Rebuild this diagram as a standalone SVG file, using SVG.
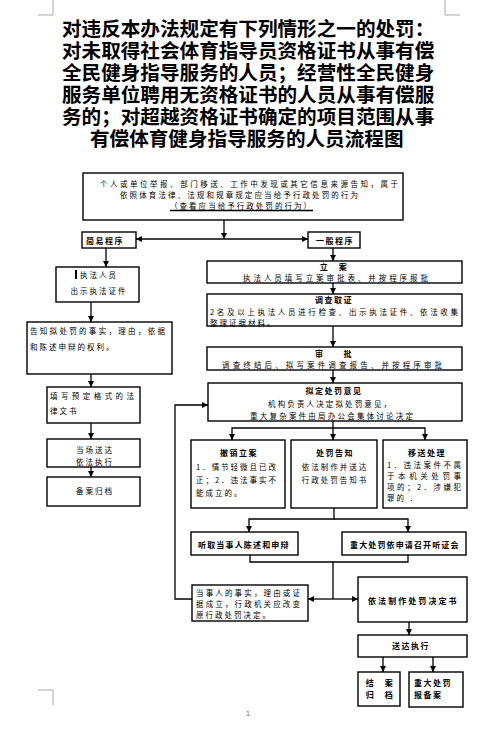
<svg xmlns="http://www.w3.org/2000/svg" width="495" height="729" viewBox="0 0 495 729">
<style>
.t{font-family:"Liberation Sans","Noto Sans CJK SC",sans-serif;font-size:19.6px;font-weight:700;fill:#000;dominant-baseline:central}
.s{font-family:"Noto Sans CJK SC","Liberation Sans",sans-serif;font-size:7.5px;fill:#000;dominant-baseline:central;letter-spacing:2px}
.b{font-family:"Noto Sans CJK SC","Liberation Sans",sans-serif;font-size:8px;font-weight:700;fill:#000;dominant-baseline:central;letter-spacing:1.5px}
.m{text-anchor:middle}
.box{fill:#fff;stroke:#000;stroke-width:1.4}
.ln{fill:none;stroke:#000;stroke-width:1.3}
.mk{fill:none;stroke:#aaa;stroke-width:1}
</style>
<defs>
<marker id="ah" markerUnits="userSpaceOnUse" markerWidth="6" markerHeight="6" refX="6" refY="3" orient="auto">
<path d="M0,0 L6,3 L0,6 z" fill="#000"/>
</marker>
</defs>
<rect width="495" height="729" fill="#fff"/>
<g id="marks">
<path class="mk" d="M53,0 V15 H38 M445,0 V15 H460 M53,705 V690 H38 M445,705 V690 H460"/>
</g>
<g id="title">
<text class="t" x="62" y="28.5">对违反本办法规定有下列情形之一的处罚：</text>
<text class="t" x="62" y="50.5">对未取得社会体育指导员资格证书从事有偿</text>
<text class="t" x="62" y="72.5">全民健身指导服务的人员；经营性全民健身</text>
<text class="t" x="62" y="94.5">服务单位聘用无资格证书的人员从事有偿服</text>
<text class="t" x="62" y="116.5">务的；对超越资格证书确定的项目范围从事</text>
<text class="t" x="90" y="138.5">有偿体育健身指导服务的人员流程图</text>
</g>
<g id="connectors">
<path class="ln" d="M224,220 V239" marker-end="url(#ah)"/>
<path class="ln" d="M224,239 H136" marker-end="url(#ah)"/>
<path class="ln" d="M224,239 H308" marker-end="url(#ah)"/>
<path class="ln" d="M106,248 V267" marker-end="url(#ah)"/>
<path class="ln" d="M91,302 V322" marker-end="url(#ah)"/>
<path class="ln" d="M91,374 V387" marker-end="url(#ah)"/>
<path class="ln" d="M91,423 V439" marker-end="url(#ah)"/>
<path class="ln" d="M91,467 V477" marker-end="url(#ah)"/>
<path class="ln" d="M333,248 V261" marker-end="url(#ah)"/>
<path class="ln" d="M333,283 V294" marker-end="url(#ah)"/>
<path class="ln" d="M333,326 V347" marker-end="url(#ah)"/>
<path class="ln" d="M333,370 V383" marker-end="url(#ah)"/>
<path class="ln" d="M333,421 V440" marker-end="url(#ah)"/>
<path class="ln" d="M333,428 H232 V440" marker-end="url(#ah)"/>
<path class="ln" d="M333,428 H425 V440" marker-end="url(#ah)"/>
<path class="ln" d="M334,508 V519 H249 V532" marker-end="url(#ah)"/>
<path class="ln" d="M334,519 H408 V532" marker-end="url(#ah)"/>
<path class="ln" d="M250,555 V562 H408 V555 M333,562 V599"/>
<path class="ln" d="M333,599 H308" marker-end="url(#ah)"/>
<path class="ln" d="M333,599 H358" marker-end="url(#ah)"/>
<path class="ln" d="M192,599 H175 V405 H208" marker-end="url(#ah)"/>
<path class="ln" d="M409,622 V635" marker-end="url(#ah)"/>
<path class="ln" d="M383,657 V672" marker-end="url(#ah)"/>
<path class="ln" d="M433,657 V672" marker-end="url(#ah)"/>
</g>
<g id="n-start">
<rect class="box" x="83" y="173" width="320" height="47"/>
<text class="s" x="100" y="183" textLength="300" lengthAdjust="spacing">个人或单位举报、部门移送、工作中发现或其它信息来源告知，属于</text>
<text class="s" x="120" y="194" textLength="240" lengthAdjust="spacing">依照体育法律、法规和规章规定应当给予行政处罚的行为</text>
<text class="s" x="170" y="205" textLength="143" lengthAdjust="spacing">（查看应当给予行政处罚的行为）</text>
<path class="ln" d="M170,210.5 H313" stroke-width="1"/>
</g>
<g id="n-simple">
<rect class="box" x="82" y="232" width="54" height="16"/>
<text class="b" x="86" y="240">简易程序</text>
</g>
<g id="n-general">
<rect class="box" x="308" y="232" width="52" height="16"/>
<text class="b m" x="335" y="240">一般程序</text>
</g>
<g id="n-show">
<rect class="box" x="56" y="267" width="83" height="35"/>
<rect x="75" y="270" width="2" height="9" fill="#000"/>
<text class="s" x="80" y="274.5">执法人员</text>
<text class="s m" x="99" y="290">出示执法证件</text>
</g>
<g id="n-inform1">
<rect class="box" x="27" y="322" width="145" height="52"/>
<text class="s" x="30" y="330" textLength="137" lengthAdjust="spacing">告知拟处罚的事实，理由，依据</text>
<text class="s" x="30" y="346">和陈述申辩的权利。</text>
</g>
<g id="n-write">
<rect class="box" x="47" y="387" width="93" height="36"/>
<text class="s" x="50" y="395" textLength="86" lengthAdjust="spacing">填写预定格式的法</text>
<text class="s" x="50" y="410">律文书</text>
</g>
<g id="n-deliver1">
<rect class="box" x="47" y="439" width="93" height="28"/>
<text class="s m" x="95" y="449">当场送达</text>
<text class="s m" x="95" y="461">依法执行</text>
</g>
<g id="n-archive1">
<rect class="box" x="47" y="477" width="93" height="29"/>
<text class="s m" x="95" y="490">备案归档</text>
</g>
<g id="n-register">
<rect class="box" x="207" y="261" width="255" height="22"/>
<text class="b m" x="334" y="266">立　案</text>
<text class="s" x="243" y="277.5" textLength="187" lengthAdjust="spacing">执法人员填写立案审批表、并按程序报批</text>
</g>
<g id="n-investigate">
<rect class="box" x="207" y="294" width="255" height="32"/>
<text class="b m" x="334" y="299.5">调查取证</text>
<text class="s" x="210" y="311" textLength="250" lengthAdjust="spacing">2名及以上执法人员进行检查、出示执法证件、依法收集</text>
<text class="s" x="210" y="322">整理证据材料。</text>
</g>
<g id="n-approve">
<rect class="box" x="207" y="347" width="255" height="23"/>
<text class="b m" x="334" y="353">审　　批</text>
<text class="s" x="222" y="364.5" textLength="222" lengthAdjust="spacing">调查终结后、拟写案件调查报告、并按程序审批</text>
</g>
<g id="n-draft">
<rect class="box" x="208" y="383" width="254" height="38"/>
<text class="b m" x="334" y="390">拟定处罚意见</text>
<text class="s" x="268" y="403.5" textLength="125" lengthAdjust="spacing">机构负责人决定拟处罚意见，</text>
<text class="s" x="250" y="415" textLength="165" lengthAdjust="spacing">重大复杂案件由局办公会集体讨论决定</text>
</g>
<g id="n-cancel">
<rect class="box" x="191" y="440" width="94" height="68"/>
<text class="b m" x="239" y="452">撤销立案</text>
<text class="s" x="196" y="466" textLength="82" lengthAdjust="spacing">1．情节轻微且已改</text>
<text class="s" x="196" y="479" textLength="82" lengthAdjust="spacing">正；2．违法事实不</text>
<text class="s" x="196" y="492">能成立的。</text>
</g>
<g id="n-notify">
<rect class="box" x="291" y="440" width="86" height="68"/>
<text class="b m" x="335" y="452">处罚告知</text>
<text class="s m" x="335" y="466">依法制作并送达</text>
<text class="s m" x="335" y="479">行政处罚告知书</text>
</g>
<g id="n-transfer">
<rect class="box" x="383" y="440" width="84" height="68"/>
<text class="b m" x="427" y="452">移送处理</text>
<text class="s" x="387" y="464" textLength="76" lengthAdjust="spacing">1．违法案件不属</text>
<text class="s" x="387" y="475" textLength="76" lengthAdjust="spacing">于本机关处罚事</text>
<text class="s" x="387" y="486" textLength="76" lengthAdjust="spacing">项的；2．涉嫌犯</text>
<text class="s" x="387" y="497">罪的 ．</text>
</g>
<g id="n-listen">
<rect class="box" x="191" y="532" width="107" height="23"/>
<text class="b" x="198" y="544.5" textLength="92" lengthAdjust="spacing">听取当事人陈述和申辩</text>
</g>
<g id="n-hearing">
<rect class="box" x="342" y="532" width="124" height="23"/>
<text class="b" x="350" y="544" textLength="110" lengthAdjust="spacing">重大处罚依申请召开听证会</text>
</g>
<g id="n-change">
<rect class="box" x="192" y="585" width="116" height="36"/>
<text class="s" x="196" y="592" textLength="106" lengthAdjust="spacing">当事人的事实，理由或证</text>
<text class="s" x="196" y="603" textLength="106" lengthAdjust="spacing">据成立，行政机关应改变</text>
<text class="s" x="196" y="614">原行政处罚决定。</text>
</g>
<g id="n-decision">
<rect class="box" x="358" y="577" width="109" height="45"/>
<text class="b" x="368" y="600" textLength="90" lengthAdjust="spacing">依法制作处罚决定书</text>
</g>
<g id="n-execute">
<rect class="box" x="358" y="635" width="109" height="22"/>
<text class="b m" x="411" y="645">送达执行</text>
</g>
<g id="n-close">
<rect class="box" x="358" y="672" width="42" height="34"/>
<text class="b m" x="380" y="682.5">结　案</text>
<text class="b m" x="380" y="694.5">归　档</text>
</g>
<g id="n-report">
<rect class="box" x="409" y="672" width="54" height="35"/>
<text class="b" x="414" y="682.5">重大处罚</text>
<text class="b" x="414" y="694.5">报备案</text>
</g>
<g id="page">
<text x="248" y="713" font-family="Liberation Sans, sans-serif" font-size="8" fill="#777" text-anchor="middle" dominant-baseline="central">1</text>
</g>
</svg>
